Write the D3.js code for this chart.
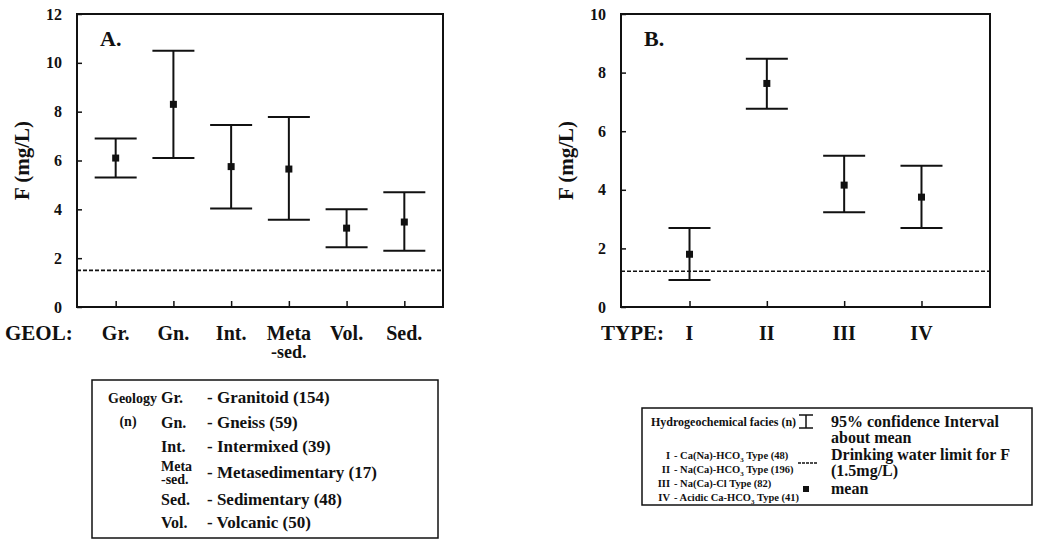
<!DOCTYPE html>
<html>
<head>
<meta charset="utf-8">
<script src="https://cdn.jsdelivr.net/npm/d3@7"></script>
<style>
  html, body { margin: 0; padding: 0; background: #fff; }
  svg { display: block; }
  text { font-family: "Liberation Serif", "Times New Roman", serif; font-weight: bold; fill: #111; }
</style>
</head>
<body>
<svg id="chart" width="1057" height="553"></svg>
<script>
// Panel A: fluoride by geology
const geolCats = ['Gr.', 'Gn.', 'Int.', 'Meta|-sed.', 'Vol.', 'Sed.'];
const geolMean = [6.1, 8.3, 5.75, 5.65, 3.23, 3.48];
const geolLow = [5.3, 6.1, 4.03, 3.57, 2.45, 2.3];
const geolHigh = [6.9, 10.5, 7.45, 7.78, 4.0, 4.7];
const geolTicks = [0, 2, 4, 6, 8, 10, 12];
const geolLimit = 1.5;

// Panel B: fluoride by hydrogeochemical facies
const typeCats = ['I', 'II', 'III', 'IV'];
const typeMean = [1.8, 7.63, 4.16, 3.75];
const typeLow = [0.92, 6.77, 3.23, 2.7];
const typeHigh = [2.7, 8.47, 5.16, 4.82];
const typeTicks = [0, 2, 4, 6, 8, 10];
const typeLimit = 1.22;

// Legend texts
const geolAbbr = ['Gr.', 'Gn.', 'Int.', 'Meta|-sed.', 'Sed.', 'Vol.'];
const geolNames = ['- Granitoid (154)', '- Gneiss (59)', '- Intermixed (39)',
  '- Metasedimentary (17)', '- Sedimentary (48)', '- Volcanic (50)'];
const faciesNum = ['I', 'II', 'III', 'IV'];
const faciesNames = ['- Ca(Na)-HCO_3 Type (48)', '- Na(Ca)-HCO_3 Type (196)',
  '- Na(Ca)-Cl Type (82)', '- Acidic Ca-HCO_3 Type (41)'];

const svg = d3.select('#chart');

function drawPanel (opts) {
  const { left, right, top, bottom, cats, mean, low, high, ticks, limit, pad, tag, axisName } = opts;
  const g = svg.append('g');

  const x = d3.scalePoint().domain(cats).range([left, right]).padding(pad);
  const y = d3.scaleLinear().domain([0, d3.max(ticks)]).range([bottom, top]);

  // inward ticks on the left
  g.append('g')
    .attr('transform', `translate(${left},0)`)
    .call(d3.axisLeft(y).tickValues(ticks).tickSize(-5).tickSizeOuter(0).tickPadding(15))
    .call(s => s.select('.domain').remove())
    .call(s => s.selectAll('line').attr('stroke', '#111').attr('stroke-width', 1.5))
    .call(s => s.selectAll('text')
      .attr('font-size', 16)
      .attr('fill', '#111'));

  // inward ticks on the bottom
  g.append('g')
    .attr('transform', `translate(0,${bottom})`)
    .call(d3.axisBottom(x).tickSize(-6).tickSizeOuter(0).tickFormat(''))
    .call(s => s.select('.domain').remove())
    .call(s => s.selectAll('line').attr('stroke', '#111').attr('stroke-width', 1.5));

  // frame
  g.append('rect')
    .attr('x', left).attr('y', top)
    .attr('width', right - left).attr('height', bottom - top)
    .attr('fill', 'none').attr('stroke', '#111').attr('stroke-width', 2);

  // drinking water limit
  g.append('line')
    .attr('x1', left).attr('x2', right)
    .attr('y1', y(limit)).attr('y2', y(limit))
    .attr('stroke', '#111').attr('stroke-width', 1.6)
    .attr('stroke-dasharray', '4,2');

  // error bars
  const bars = g.selectAll('.bar').data(cats).join('g').attr('class', 'bar');
  const cap = 21;
  bars.append('line')
    .attr('x1', d => x(d)).attr('x2', d => x(d))
    .attr('y1', (d, i) => y(low[i])).attr('y2', (d, i) => y(high[i]))
    .attr('stroke', '#111').attr('stroke-width', 2);
  bars.append('line')
    .attr('x1', d => x(d) - cap).attr('x2', d => x(d) + cap)
    .attr('y1', (d, i) => y(high[i])).attr('y2', (d, i) => y(high[i]))
    .attr('stroke', '#111').attr('stroke-width', 2);
  bars.append('line')
    .attr('x1', d => x(d) - cap).attr('x2', d => x(d) + cap)
    .attr('y1', (d, i) => y(low[i])).attr('y2', (d, i) => y(low[i]))
    .attr('stroke', '#111').attr('stroke-width', 2);
  bars.append('rect')
    .attr('x', d => x(d) - 3.5).attr('y', (d, i) => y(mean[i]) - 3.5)
    .attr('width', 7).attr('height', 7)
    .attr('fill', '#111');

  // panel tag
  g.append('text')
    .attr('x', left + 23).attr('y', top + 32)
    .attr('font-size', 22)
    .text(tag);

  // y title
  g.append('text')
    .attr('transform', `translate(${left - 48},${(top + bottom) / 2}) rotate(-90)`)
    .attr('text-anchor', 'middle')
    .attr('font-size', 21)
    .text('F (mg/L)');

  // category labels, one text per line
  cats.forEach(c => {
    c.split('|').forEach((line, j) => {
      g.append('text')
        .attr('x', x(c))
        .attr('y', bottom + 33 + j * 18)
        .attr('text-anchor', 'middle')
        .attr('font-size', j ? 18 : 20)
        .text(line);
    });
  });

  g.append('text')
    .attr('x', opts.nameX)
    .attr('y', bottom + 33)
    .attr('font-size', 21)
    .text(axisName);

  return g;
}

drawPanel({
  left: 77, right: 443, top: 14, bottom: 307,
  cats: geolCats, mean: geolMean, low: geolLow, high: geolHigh,
  ticks: geolTicks, limit: geolLimit, pad: 0.67,
  tag: 'A.', axisName: 'GEOL:', nameX: 5
});

drawPanel({
  left: 621, right: 990, top: 14, bottom: 307,
  cats: typeCats, mean: typeMean, low: typeLow, high: typeHigh,
  ticks: typeTicks, limit: typeLimit, pad: 0.886,
  tag: 'B.', axisName: 'TYPE:', nameX: 601
});

// Legend A
const legA = svg.append('g');
legA.append('rect')
  .attr('x', 92).attr('y', 380).attr('width', 346).attr('height', 158)
  .attr('fill', 'none').attr('stroke', '#111').attr('stroke-width', 1.5);
legA.append('text').attr('x', 108).attr('y', 403).attr('font-size', 14).text('Geology');
legA.append('text').attr('x', 128).attr('y', 426).attr('text-anchor', 'middle').attr('font-size', 14).text('(n)');

const rowYA = [403, 428, 452, 478, 505, 528];
geolAbbr.forEach((a, i) => {
  const parts = a.split('|');
  if (parts.length > 1) {
    parts.forEach((p, j) => {
      legA.append('text').attr('x', 161).attr('y', rowYA[i] - 7 + j * 13)
        .attr('font-size', 14).text(p);
    });
  } else {
    legA.append('text').attr('x', 161).attr('y', rowYA[i]).attr('font-size', 16).text(a);
  }
  legA.append('text').attr('x', 207).attr('y', rowYA[i]).attr('font-size', 17).text(geolNames[i]);
});

// Legend B
const legB = svg.append('g');
legB.append('rect')
  .attr('x', 642).attr('y', 408).attr('width', 390).attr('height', 97)
  .attr('fill', 'none').attr('stroke', '#111').attr('stroke-width', 1.5);
legB.append('text').attr('x', 651).attr('y', 426).attr('font-size', 12).text('Hydrogeochemical facies (n)');

const rowYB = [459, 473, 487, 501];
function subText (sel, str) {
  let shift = 0;
  str.split(/(_3)/).forEach(part => {
    if (part === '_3') {
      sel.append('tspan').attr('font-size', 7).attr('dy', 3).text('3');
      shift = -3;
    } else if (part) {
      sel.append('tspan').attr('dy', shift).text(part);
      shift = 0;
    }
  });
}
faciesNum.forEach((n, i) => {
  legB.append('text').attr('x', 670).attr('y', rowYB[i]).attr('text-anchor', 'end')
    .attr('font-size', 10.5).text(n);
  const t = legB.append('text').attr('x', 674).attr('y', rowYB[i]).attr('font-size', 10.5);
  subText(t, faciesNames[i]);
});

// CI symbol
const ciX = 806;
legB.append('line').attr('x1', ciX).attr('x2', ciX).attr('y1', 415).attr('y2', 428).attr('stroke', '#111').attr('stroke-width', 1.5);
legB.append('line').attr('x1', ciX - 7).attr('x2', ciX + 7).attr('y1', 415).attr('y2', 415).attr('stroke', '#111').attr('stroke-width', 1.5);
legB.append('line').attr('x1', ciX - 7).attr('x2', ciX + 7).attr('y1', 428).attr('y2', 428).attr('stroke', '#111').attr('stroke-width', 1.5);
legB.append('text').attr('x', 831).attr('y', 427).attr('font-size', 16).text('95% confidence Interval');
legB.append('text').attr('x', 831).attr('y', 443).attr('font-size', 16).text('about mean');

legB.append('line').attr('x1', 798).attr('x2', 817).attr('y1', 463).attr('y2', 463)
  .attr('stroke', '#111').attr('stroke-width', 1.6).attr('stroke-dasharray', '3,1');
legB.append('text').attr('x', 831).attr('y', 460).attr('font-size', 16).text('Drinking water limit for F');
legB.append('text').attr('x', 831).attr('y', 476).attr('font-size', 16).text('(1.5mg/L)');

legB.append('rect').attr('x', 803).attr('y', 486).attr('width', 6).attr('height', 6).attr('fill', '#111');
legB.append('text').attr('x', 831).attr('y', 494).attr('font-size', 16).text('mean');
</script>
</body>
</html>
